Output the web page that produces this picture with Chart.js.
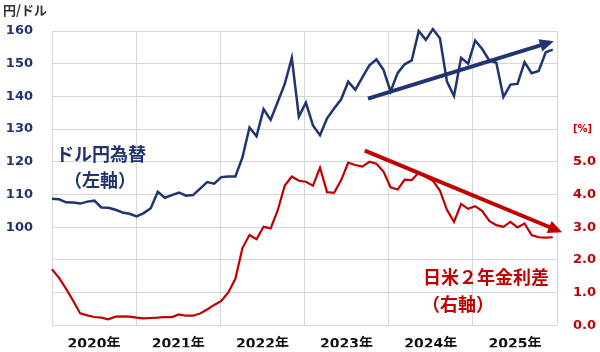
<!DOCTYPE html>
<html><head><meta charset="utf-8">
<script src="https://cdn.jsdelivr.net/npm/chart.js@4"></script>
<style>html,body{margin:0;padding:0;background:#fff;}canvas{display:block;}</style>
</head><body>
<canvas id="c" width="600" height="352"></canvas>
<script>
// ---- data ----
const months = [];
for (let y = 2020; y <= 2025; y++) for (let m = 1; m <= 12; m++) months.push(y + '/' + String(m).padStart(2, '0'));

const usdJpy = [
  108.7,108.5,107.6,107.5,107.2,107.8,108.1,106.0,105.9,105.3,104.5,104.1,
  103.3,104.3,105.8,110.8,109.0,109.8,110.6,109.6,109.8,111.8,113.8,113.3,
  115.3,115.5,115.5,121.3,130.5,127.8,136.1,132.8,138.3,143.8,151.8,133.8,
  138.1,131.1,128.1,133.3,136.3,139.1,144.5,142.0,145.8,149.5,151.3,148.1,
  141.5,147.1,149.8,151.0,160.0,157.3,160.6,157.8,144.5,140.1,151.8,150.0,
  157.1,154.5,151.0,150.3,139.8,143.6,143.8,150.5,147.1,147.8,153.5,154.3
];
const rateGap = [
  1.71,1.45,1.11,0.75,0.36,0.30,0.25,0.23,0.18,0.26,0.27,0.26,
  0.23,0.21,0.22,0.23,0.25,0.25,0.33,0.29,0.29,0.36,0.48,0.62,
  0.74,1.00,1.42,2.36,2.76,2.63,3.01,2.96,3.51,4.27,4.55,4.42,
  4.39,4.27,4.82,4.07,4.05,4.44,4.97,4.90,4.85,5.00,4.94,4.70,
  4.22,4.15,4.45,4.44,4.67,4.54,4.42,4.12,3.53,3.16,3.71,3.56,
  3.64,3.49,3.19,3.06,3.01,3.16,2.99,3.11,2.76,2.69,2.68,2.69
];
// trend arrows: [month index, value]
const usdJpyTrend = [[44.8, 139.3], [70.6, 156.5]];
const rateGapTrend = [[44.35, 5.34], [71.8, 2.89]];

const yearLabels = ['2020年','2021年','2022年','2023年','2024年','2025年'];
const leftTickLabels = ['100','110','120','130','140','150','160'];
const rightTickLabels = ['0.0','1.0','2.0','3.0','4.0','5.0','[%]'];

// ---- styles ----
const NAVY = '#1F3470', RED = '#C00000', GRID = '#D6D6D6';
const NUMFONT = '"DejaVu Sans", "Noto Sans CJK JP", sans-serif';
const JPFONT = '"Noto Sans CJK JP", "DejaVu Sans", sans-serif';

const toXY = arr => arr.map((v, i) => ({x: i, y: v}));
const pairXY = arr => arr.map(p => ({x: p[0], y: p[1]}));

const arrowHeads = {
  id: 'arrowHeads',
  afterDatasetsDraw(chart) {
    const ctx = chart.ctx;
    chart.data.datasets.forEach((ds, i) => {
      if (!ds.arrow) return;
      const pts = chart.getDatasetMeta(i).data;
      const a = pts[pts.length - 2], b = pts[pts.length - 1];
      const ang = Math.atan2(b.y - a.y, b.x - a.x);
      const c = Math.cos(ang), s = Math.sin(ang);
      const tipX = b.x + 4 * c, tipY = b.y + 4 * s;
      const L = 14, W = 6.5;
      ctx.save();
      ctx.fillStyle = ds.borderColor;
      ctx.beginPath();
      ctx.moveTo(tipX, tipY);
      ctx.lineTo(tipX - L * c + W * s, tipY - L * s - W * c);
      ctx.lineTo(tipX - L * c - W * s, tipY - L * s + W * c);
      ctx.closePath();
      ctx.fill();
      ctx.restore();
    });
  }
};

const texts = {
  id: 'texts',
  afterDraw(chart) {
    const ctx = chart.ctx;
    ctx.save();
    ctx.textBaseline = 'middle';
    ctx.fillStyle = '#333333';
    ctx.textAlign = 'left';
    ctx.font = 'bold 13px ' + JPFONT;
    ctx.fillText('円/ドル', 3, 10);

    ctx.fillStyle = NAVY;
    ctx.font = 'bold 18px ' + JPFONT;
    ctx.textAlign = 'center';
    ctx.fillText('ドル円為替', 101, 154);
    ctx.fillText('（左軸）', 100, 180);

    ctx.fillStyle = RED;
    ctx.textAlign = 'left';
    ctx.fillText('日米２年金利差', 423, 277);
    ctx.fillText('（右軸）', 422, 304);
    ctx.restore();
  }
};

new Chart(document.getElementById('c'), {
  type: 'line',
  data: {
    datasets: [
      {data: pairXY(usdJpyTrend), xAxisID: 'xm', yAxisID: 'yL', borderColor: NAVY, borderWidth: 4, arrow: true, clip: false, pointRadius: 0, tension: 0},
      {data: pairXY(rateGapTrend), xAxisID: 'xm', yAxisID: 'yR', borderColor: RED, borderWidth: 4, arrow: true, clip: false, pointRadius: 0, tension: 0},
      {label: 'ドル円為替', data: toXY(usdJpy), xAxisID: 'xm', yAxisID: 'yL', borderColor: NAVY, borderWidth: 2.5, clip: false, pointRadius: 0, tension: 0},
      {label: '日米２年金利差', data: toXY(rateGap), xAxisID: 'xm', yAxisID: 'yR', borderColor: RED, borderWidth: 2.2, clip: false, pointRadius: 0, tension: 0}
    ]
  },
  options: {
    responsive: false,
    animation: false,
    events: [],
    layout: {padding: {top: 31, left: 0, right: 0, bottom: 0}},
    plugins: {legend: {display: false}, tooltip: {enabled: false}},
    scales: {
      xm: {type: 'linear', axis: 'x', display: false, min: 0, max: 71.6},
      xy: {
        type: 'linear', axis: 'x', position: 'bottom', min: 2020, max: 2026,
        afterBuildTicks: s => { s.ticks = []; for (let k = 0; k <= 12; k++) s.ticks.push({value: 2020 + k * 0.5}); },
        afterFit: s => { s.height = 22; },
        grid: {color: c => (c.tick && Number.isInteger(c.tick.value)) ? GRID : 'rgba(0,0,0,0)', drawTicks: false, lineWidth: 1},
        border: {display: false},
        ticks: {
          autoSkip: false, maxRotation: 0, padding: 11, color: '#111111',
          font: {family: NUMFONT, size: 14, weight: 'bold'},
          callback: v => Number.isInteger(v) ? '' : yearLabels[Math.floor(v) - 2020]
        }
      },
      yL: {
        type: 'linear', position: 'left', min: 70, max: 160,
        afterFit: s => { s.width = 52; },
        grid: {color: GRID, drawTicks: false},
        border: {display: false},
        ticks: {
          stepSize: 10, autoSkip: false, padding: 19, color: NAVY,
          font: {family: NUMFONT, size: 13, weight: 'bold'},
          callback: v => leftTickLabels.includes(String(v)) ? String(v) : ''
        }
      },
      yR: {
        type: 'linear', position: 'right', min: 0, max: 9,
        afterFit: s => { s.width = 43; },
        grid: {display: false, drawTicks: false},
        border: {display: false},
        ticks: {
          stepSize: 1, autoSkip: false, padding: 16, color: RED,
          font: c => (c.tick && c.tick.value === 6) ? {family: NUMFONT, size: 10, weight: 'bold'} : {family: NUMFONT, size: 13, weight: 'bold'},
          callback: v => rightTickLabels[v] !== undefined ? rightTickLabels[v] : ''
        }
      }
    }
  },
  plugins: [arrowHeads, texts]
});
</script>
</body></html>
